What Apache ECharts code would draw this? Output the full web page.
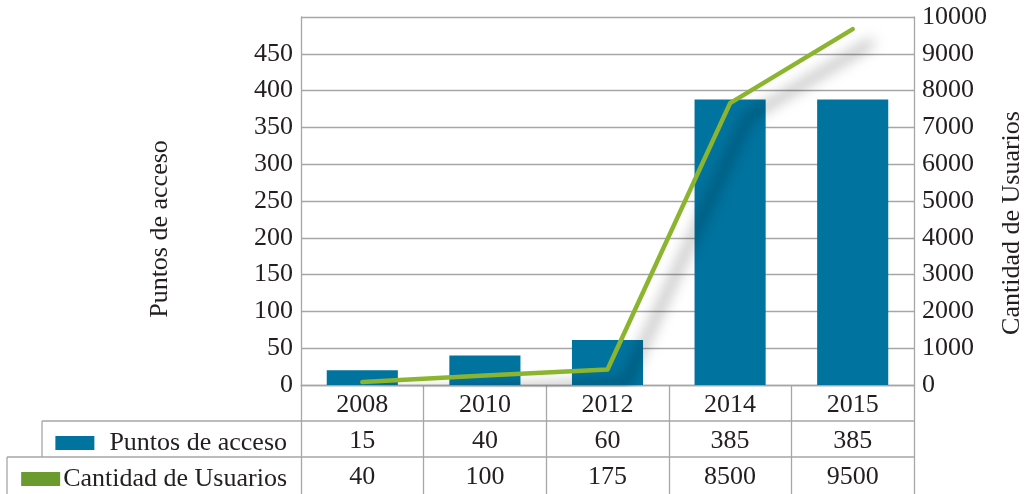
<!DOCTYPE html>
<html>
<head>
<meta charset="utf-8">
<script src="https://cdn.jsdelivr.net/npm/echarts@6/dist/echarts.min.js"></script>
<style>
html,body{margin:0;padding:0;background:#fff;overflow:hidden;}
#c{width:1027px;height:494px;}
</style>
</head>
<body>
<div id="c"></div>
<script>
// Data
var categories = ['2008', '2010', '2012', '2014', '2015'];
var puntosValues = [20, 40, 61, 388, 388];          // bar heights as drawn
var usuariosValues = [80, 260, 420, 7660, 9670];    // line points as drawn
var puntosTable = ['15', '40', '60', '385', '385']; // table text row 1
var usuariosTable = ['40', '100', '175', '8500', '9500']; // table text row 2
var leftTicks = [0, 500, 50];
var rightTicks = [0, 10000, 1000];

var FONT = '"Liberation Serif", "DejaVu Serif", serif';
var GRID = '#a6a6a6';
var TXT = '#231f20';
var FS = 26;

var chart = echarts.init(document.getElementById('c'), null, {renderer: 'canvas', width: 1027, height: 494});

function tableAxis(data, offset) {
  return {
    type: 'category', data: data, position: 'bottom', offset: offset,
    gridIndex: 0,
    axisLine: {show: false},
    axisTick: {show: false},
    axisLabel: {fontFamily: FONT, fontSize: FS, color: TXT, margin: 7},
    splitLine: {show: false}
  };
}

var option = {
  animation: false,
  backgroundColor: '#fff',
  grid: {left: 301, right: 113, top: 17, bottom: 109, containLabel: false, outerBoundsMode: 'none'},
  legend: [
    {
      data: [{name: 'Puntos de acceso', itemStyle: {color: '#00739F'}}],
      right: 735, top: 425, icon: 'rect', itemWidth: 39, itemHeight: 14,
      textStyle: {fontFamily: FONT, fontSize: FS, color: TXT, padding: [0, 0, 0, 10]},
      selectedMode: false
    },
    {
      data: [{name: 'Cantidad de Usuarios', itemStyle: {color: '#6B9A2F'}}],
      right: 735, top: 461, icon: 'rect', itemWidth: 39, itemHeight: 14,
      textStyle: {fontFamily: FONT, fontSize: FS, color: TXT, padding: [0, 0, 0, -2]},
      selectedMode: false
    }
  ],
  xAxis: [
    {
      type: 'category', data: categories, position: 'bottom',
      axisLine: {show: true, lineStyle: {color: GRID, width: 1.3}},
      axisTick: {show: true, alignWithLabel: false, length: 110, lineStyle: {color: GRID, width: 1.3}},
      axisLabel: {fontFamily: FONT, fontSize: FS, color: TXT, margin: 7},
      splitLine: {show: false}
    },
    tableAxis(puntosTable, 36),
    tableAxis(usuariosTable, 72)
  ],
  yAxis: [
    {
      type: 'value', min: leftTicks[0], max: leftTicks[1], interval: leftTicks[2],
      name: 'Puntos de acceso', nameLocation: 'middle', nameRotate: 90, nameGap: 128,
      nameTextStyle: {fontFamily: FONT, fontSize: FS, color: TXT, padding: [0, 56, 0, 0]},
      axisLine: {show: true, lineStyle: {color: GRID, width: 1.3}},
      axisTick: {show: false},
      axisLabel: {fontFamily: FONT, fontSize: FS, color: TXT, margin: 8, showMaxLabel: false},
      splitLine: {show: true, lineStyle: {color: GRID, width: 1.3}}
    },
    {
      type: 'value', min: rightTicks[0], max: rightTicks[1], interval: rightTicks[2],
      name: 'Cantidad de Usuarios', nameLocation: 'middle', nameRotate: 90, nameGap: 85,
      nameTextStyle: {fontFamily: FONT, fontSize: FS, color: TXT, padding: [0, 44, 0, 0]},
      axisLine: {show: true, lineStyle: {color: GRID, width: 1.3}},
      axisTick: {show: false},
      axisLabel: {fontFamily: FONT, fontSize: FS, color: TXT, margin: 8,
        formatter: function (v) { return String(v); }},
      splitLine: {show: false}
    }
  ],
  series: [
    {
      name: 'Puntos de acceso', type: 'bar', data: puntosValues,
      xAxisIndex: 0, yAxisIndex: 0, barWidth: '58%',
      itemStyle: {color: '#00739F'}
    },
    {
      name: 'Cantidad de Usuarios', type: 'line', data: usuariosValues,
      xAxisIndex: 0, yAxisIndex: 1, symbol: 'none', z: 5,
      lineStyle: {color: '#8CB52F', width: 4.5, cap: 'round', join: 'round',
        shadowColor: 'rgba(0,0,0,0.5)', shadowBlur: 14, shadowOffsetX: 18, shadowOffsetY: 14},
      itemStyle: {color: '#8CB52F'}
    }
  ],
  graphic: [
    {type: 'line', shape: {x1: 42, y1: 421, x2: 914, y2: 421}, style: {stroke: GRID, lineWidth: 1.3}, silent: true},
    {type: 'line', shape: {x1: 7, y1: 457, x2: 914, y2: 457}, style: {stroke: GRID, lineWidth: 1.3}, silent: true},
    {type: 'line', shape: {x1: 42, y1: 421, x2: 42, y2: 457}, style: {stroke: GRID, lineWidth: 1.3}, silent: true},
    {type: 'line', shape: {x1: 7, y1: 457, x2: 7, y2: 494}, style: {stroke: GRID, lineWidth: 1.3}, silent: true}
  ]
};
chart.setOption(option);
</script>
</body>
</html>
